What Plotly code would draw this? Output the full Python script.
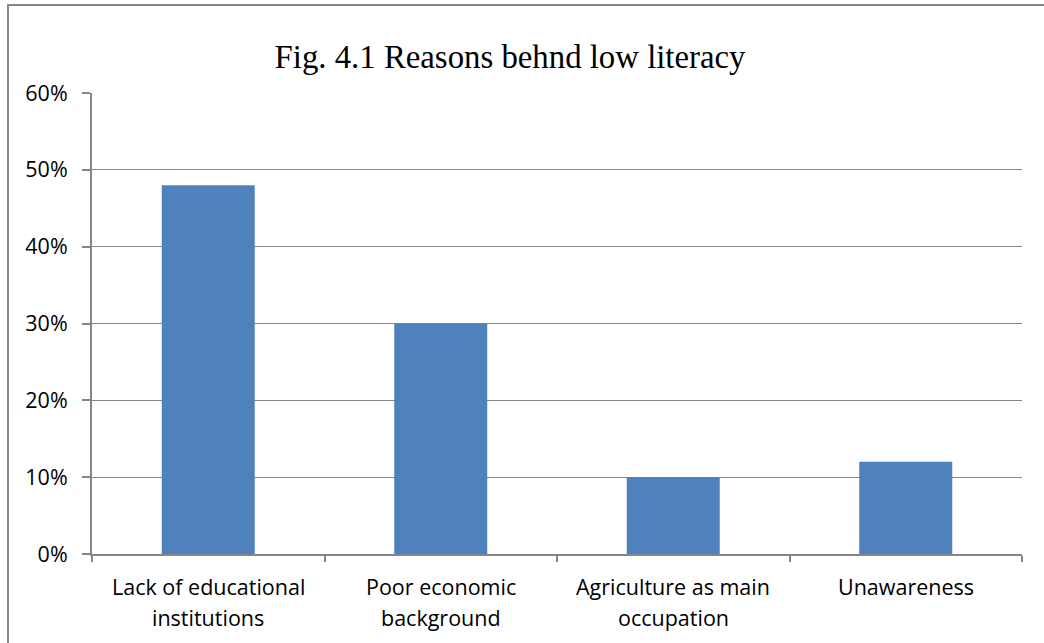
import plotly.graph_objects as go

categories = ["Lack of educational<br>institutions", "Poor economic<br>background",
              "Agriculture as main<br>occupation", "Unawareness"]
values = [0.48, 0.30, 0.10, 0.12]
y_ticks = [0, 0.1, 0.2, 0.3, 0.4, 0.5, 0.6]
y_tick_labels = ["0%", "10%", "20%", "30%", "40%", "50%", "60%"]
title_text = "Fig. 4.1 Reasons behnd low literacy"

W, H = 1044, 643
L, R, T, B = 92, 22, 93, 89
pw, ph = W - L - R, H - T - B
FS = 21.5

fig = go.Figure(go.Bar(x=categories, y=values, marker_color="#4F81BD",
                       marker_line_width=0, width=0.4))

fig.update_layout(
    width=W, height=H,
    margin=dict(l=L, r=R, t=T, b=B, pad=0),
    paper_bgcolor="white", plot_bgcolor="white",
    showlegend=False,
    title=dict(text=title_text, x=(510 - L) / pw, xref="paper", xanchor="center",
               y=1 - 57 / H, yanchor="middle",
               font=dict(family="Liberation Serif", size=32.8, color="black")),
    font=dict(family="Open Sans", size=FS, color="black"),
)
fig.update_xaxes(
    showline=True, linecolor="#868686", linewidth=2,
    ticks="outside", tickson="boundaries", ticklen=6, tickcolor="#868686", tickwidth=2,
    showgrid=False, showticklabels=False, range=[-0.5, 3.5],
)
fig.update_yaxes(
    range=[0, 0.6], tickvals=y_ticks, ticktext=y_tick_labels,
    showline=True, linecolor="#868686", linewidth=2,
    ticks="outside", ticklen=8, tickcolor="#868686", tickwidth=2,
    showgrid=True, gridcolor="#868686", gridwidth=1.3,
    tickfont=dict(size=FS), zeroline=False, ticklabelstandoff=10,
)

line_centers = [586, 617]
for cat in categories:
    for i, part in enumerate(cat.split("<br>")):
        fig.add_annotation(x=cat, xref="x", yref="paper",
                           y=-(line_centers[i] - (H - B)) / ph,
                           text=part, showarrow=False, yanchor="middle",
                           xanchor="center", font=dict(size=FS, family="Open Sans"))

fig.add_shape(type="rect", xref="paper", yref="paper",
              x0=(8 - L) / pw, x1=(W + 10 - L) / pw,
              y0=-(H + 10 - (H - B)) / ph, y1=1 + (T - 5) / ph,
              line=dict(color="#868686", width=2), layer="below")

fig.write_html("out.html")
